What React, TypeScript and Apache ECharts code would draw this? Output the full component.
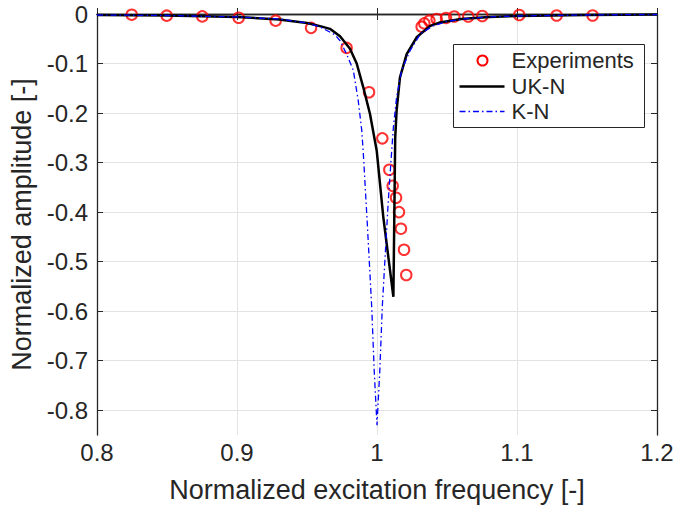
import React, { useEffect, useRef } from "react";
import * as echarts from "echarts";

const expX = [0.8248, 0.8498, 0.8752, 0.9012, 0.9276, 0.9529, 0.9783, 0.9943, 1.0038, 1.0088, 1.0112, 1.0136, 1.0157, 1.0171, 1.0193, 1.0209, 1.0319, 1.0338, 1.0374, 1.0426, 1.0493, 1.0552, 1.0652, 1.0752, 1.1016, 1.1283, 1.154];
const expY = [-0.0014, -0.0034, -0.0048, -0.0075, -0.0135, -0.028, -0.0685, -0.158, -0.251, -0.3145, -0.347, -0.371, -0.4, -0.4335, -0.476, -0.527, -0.0256, -0.019, -0.0135, -0.01, -0.008, -0.005, -0.005, -0.004, -0.002, -0.003, -0.003];

const ukX = [0.8, 0.85, 0.9, 0.93, 0.95, 0.96, 0.9664, 0.9736, 0.9807, 0.9855, 0.9902, 0.995, 0.9998, 1.0045, 1.0117, 1.0124, 1.013, 1.014, 1.0164, 1.0212, 1.0283, 1.038, 1.045, 1.06, 1.08, 1.1, 1.15, 1.2];
const ukY = [-0.002, -0.003, -0.006, -0.011, -0.018, -0.025, -0.03, -0.045, -0.07, -0.1, -0.148, -0.202, -0.276, -0.41, -0.571, -0.4, -0.25, -0.195, -0.128, -0.081, -0.047, -0.024, -0.017, -0.01, -0.006, -0.004, -0.002, -0.001];

const knX = [0.8, 0.85, 0.9, 0.93, 0.95, 0.96, 0.97, 0.9736, 0.9783, 0.9831, 0.9866, 0.9891, 0.9902, 0.993, 0.9962, 0.998, 1.0, 1.002, 1.0038, 1.006, 1.008, 1.0105, 1.0117, 1.014, 1.0176, 1.0236, 1.031, 1.04, 1.05, 1.065, 1.08, 1.1, 1.15, 1.2];
const knY = [-0.002, -0.003, -0.006, -0.01, -0.018, -0.027, -0.042, -0.054, -0.081, -0.114, -0.175, -0.235, -0.28, -0.42, -0.59, -0.72, -0.83, -0.72, -0.59, -0.48, -0.38, -0.276, -0.229, -0.168, -0.114, -0.074, -0.04, -0.024, -0.015, -0.009, -0.006, -0.004, -0.002, -0.001];

const xTicks = [0.8, 0.9, 1.0, 1.1, 1.2];
const yTicks = [0, -0.1, -0.2, -0.3, -0.4, -0.5, -0.6, -0.7, -0.8];
const legendNames = ["Experiments", "UK-N", "K-N"];

const TXT = "#262626";
const FONT = "'Liberation Sans', Arial, sans-serif";

export default function App() {
  const ref = useRef<HTMLDivElement>(null);
  useEffect(() => {
    if (!ref.current) return;
    const chart = echarts.init(ref.current, null, { renderer: "svg" });
    const axisLine = { show: true, lineStyle: { color: TXT, width: 1.3 } };
    const tick = (vals: number[]) => ({ show: true, inside: true, length: 6, lineStyle: { color: TXT }, customValues: vals });
    const Z = 100;
    chart.setOption({
      animation: false,
      backgroundColor: "#ffffff",
      textStyle: { fontFamily: FONT },
      grid: { left: 97, top: 14, right: 26, bottom: 77, containLabel: false },
      xAxis: [
        {
          type: "value", min: 0.8, max: 1.2, position: "bottom",
          name: "Normalized excitation frequency [-]", nameLocation: "middle", nameGap: 41,
          nameTextStyle: { fontSize: 27, color: TXT, fontFamily: FONT },
          axisLine,
          axisTick: tick(xTicks),
          axisLabel: { fontSize: 24, color: TXT, margin: 5, fontFamily: FONT, customValues: xTicks },
          splitLine: { show: true, lineStyle: { color: "#e3e3e3", width: 1 } },
        },
        {
          type: "value", min: 0.8, max: 1.2, position: "top",
          axisLine,
          axisTick: tick(xTicks),
          axisLabel: { show: false, customValues: xTicks },
          splitLine: { show: false },
        },
      ],
      yAxis: [
        {
          type: "value", min: -0.85, max: 0, position: "left",
          name: "Normalized amplitude [-]", nameLocation: "middle", nameGap: 61,
          nameTextStyle: { fontSize: 27, color: TXT, fontFamily: FONT },
          axisLine,
          axisTick: tick(yTicks),
          axisLabel: { fontSize: 24, color: TXT, margin: 9, fontFamily: FONT, customValues: yTicks },
          splitLine: { show: true, lineStyle: { color: "#e3e3e3", width: 1 } },
        },
        {
          type: "value", min: -0.85, max: 0, position: "right",
          axisLine,
          axisTick: tick(yTicks),
          axisLabel: { show: false, customValues: yTicks },
          splitLine: { show: false },
        },
      ],
      series: [
        {
          name: legendNames[0], type: "scatter", symbol: "circle", symbolSize: 10.5,
          data: expX.map((x, i) => [x, expY[i]]),
          itemStyle: { color: "rgba(255,255,255,0)", borderColor: "#ff0000", borderWidth: 2 },
          z: 3,
        },
        {
          name: legendNames[1], type: "line", showSymbol: false, symbol: "none",
          data: ukX.map((x, i) => [x, ukY[i]]),
          lineStyle: { color: "#000000", width: 2.5 },
          z: 4,
        },
        {
          name: legendNames[2], type: "line", showSymbol: false, symbol: "none",
          data: knX.map((x, i) => [x, knY[i]]),
          lineStyle: { color: "#0000ff", width: 1.3, type: [6, 3, 1.5, 3] },
          z: 5,
        },
      ],
      graphic: [
        {
          type: "group", left: 453, top: 44, z: Z,
          children: [
            { type: "rect", z: Z, shape: { x: 0, y: 0, width: 191, height: 83 }, style: { fill: "#ffffff", stroke: TXT, lineWidth: 1 } },
            { type: "circle", z: Z + 1, shape: { cx: 29, cy: 16, r: 5 }, style: { fill: "none", stroke: "#ff0000", lineWidth: 2 } },
            { type: "line", z: Z + 1, shape: { x1: 6, y1: 42, x2: 51, y2: 42 }, style: { stroke: "#000000", lineWidth: 2.5 } },
            { type: "line", z: Z + 1, shape: { x1: 6, y1: 67, x2: 51, y2: 67 }, style: { stroke: "#0000ff", lineWidth: 1.3, lineDash: [6, 3, 1.5, 3] } },
            { type: "text", z: Z + 1, x: 58, y: 16, style: { text: legendNames[0], fontSize: 22, fill: TXT, fontFamily: FONT, verticalAlign: "middle" } },
            { type: "text", z: Z + 1, x: 58, y: 42, style: { text: legendNames[1], fontSize: 22, fill: TXT, fontFamily: FONT, verticalAlign: "middle" } },
            { type: "text", z: Z + 1, x: 58, y: 67, style: { text: legendNames[2], fontSize: 22, fill: TXT, fontFamily: FONT, verticalAlign: "middle" } },
          ],
        },
      ],
    });
    return () => chart.dispose();
  }, []);
  return <div ref={ref} style={{ position: "fixed", left: 0, top: 0, width: 683, height: 512 }} />;
}
